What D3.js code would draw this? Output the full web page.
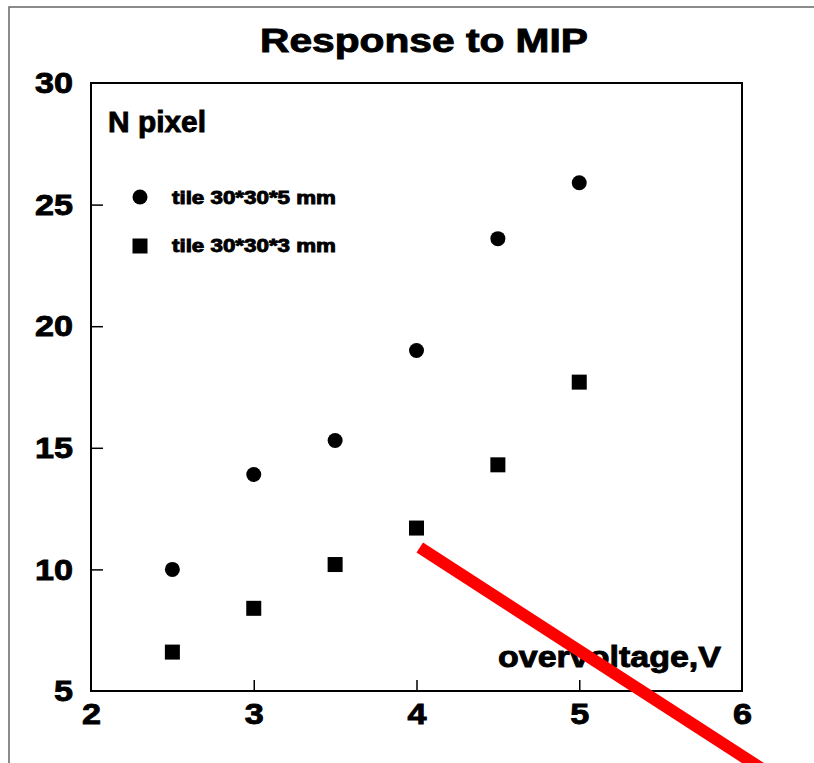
<!DOCTYPE html>
<html>
<head>
<meta charset="utf-8">
<script src="https://cdn.jsdelivr.net/npm/d3@7"></script>
<style>
  html, body { margin: 0; padding: 0; background: #fff; }
  svg { display: block; }
  text { font-family: "Liberation Sans", Arial, Helvetica, sans-serif; font-weight: bold; fill: #000; stroke: #000; stroke-width: 0.9px; }
</style>
</head>
<body>
<div id="chart"></div>
<script>
// ---- data ----
const voltages = [2.5, 3, 3.5, 4, 4.5, 5];
const tile5mm = [10.0, 13.9, 15.3, 19.0, 23.6, 25.9];   // circles
const tile3mm = [6.6, 8.4, 10.2, 11.7, 14.3, 17.7];     // squares
const seriesNames = ['tile 30*30*5 mm', 'tile 30*30*3 mm'];
const xTicks = [2, 3, 4, 5, 6];
const yTicks = [5, 10, 15, 20, 25, 30];
// red strike-through annotation, in data units
const redLine = [[4.02, 10.9], [6.4, 0.6]];

const W = 814, H = 763;
const plot = { left: 91, top: 83, right: 742, bottom: 691 };

const svg = d3.select('#chart').append('svg')
  .attr('width', W).attr('height', H)
  .attr('viewBox', `0 0 ${W} ${H}`);

const x = d3.scaleLinear().domain([2, 6]).range([plot.left, plot.right]);
const y = d3.scaleLinear().domain([5, 30]).range([plot.bottom, plot.top]);

// text is drawn wide (Helvetica-ish stretch) — fit to measured ink width
function fit(sel, w) {
  return sel.attr('textLength', w).attr('lengthAdjust', 'spacingAndGlyphs');
}

// outer canvas border (top + left only visible)
svg.append('path')
  .attr('d', `M9,${H + 5} L9,7 L${W + 5},7`)
  .attr('fill', 'none')
  .attr('stroke', '#666')
  .attr('stroke-width', 1.5);

// title
fit(svg.append('text')
  .attr('x', 260).attr('y', 52)
  .attr('font-size', 33)
  .text('Response to MIP'), 328);

// axes
const gx = svg.append('g')
  .attr('transform', `translate(0,${plot.bottom})`)
  .call(d3.axisBottom(x).tickValues(xTicks).tickFormat(d3.format('d'))
    .tickSizeInner(-11).tickSizeOuter(0).tickPadding(12));
const gy = svg.append('g')
  .attr('transform', `translate(${plot.left},0)`)
  .call(d3.axisLeft(y).tickValues(yTicks).tickFormat(d3.format('d'))
    .tickSizeInner(-12).tickSizeOuter(0).tickPadding(18));

[gx, gy].forEach(g => {
  g.select('.domain').remove();
  g.selectAll('.tick line').attr('stroke', '#000').attr('stroke-width', 1.5);
  g.selectAll('.tick text')
    .attr('font-family', '"Liberation Sans", Arial, sans-serif')
    .attr('font-weight', 'bold')
    .attr('font-size', 30)
    .attr('fill', '#000')
    .attr('stroke', '#000')
    .attr('stroke-width', 0.9)
    .each(function (d) {
      const n = String(d).length;
      fit(d3.select(this), n * 19);
    });
});
// hide corner ticks that would sit on the frame
gx.selectAll('.tick line').filter(d => d === 2 || d === 6).remove();
gy.selectAll('.tick line').filter(d => d === 5 || d === 30).remove();

// frame
svg.append('rect')
  .attr('x', plot.left).attr('y', plot.top)
  .attr('width', plot.right - plot.left)
  .attr('height', plot.bottom - plot.top)
  .attr('fill', 'none')
  .attr('stroke', '#000')
  .attr('stroke-width', 2);

// labels inside frame
fit(svg.append('text')
  .attr('x', 108).attr('y', 132)
  .attr('font-size', 30)
  .text('N pixel'), 98);

fit(svg.append('text')
  .attr('x', 498).attr('y', 667)
  .attr('font-size', 30)
  .text('overvoltage,V'), 223);

// legend
const legend = svg.append('g');
legend.append('circle').attr('cx', 140).attr('cy', 197).attr('r', 7.5).attr('fill', '#000');
legend.append('rect').attr('x', 132.5).attr('y', 238.5).attr('width', 15).attr('height', 15).attr('fill', '#000');
fit(legend.append('text').attr('x', 172).attr('y', 204).attr('font-size', 18).attr('stroke-width', 0.6).text(seriesNames[0]), 164);
fit(legend.append('text').attr('x', 172).attr('y', 252).attr('font-size', 18).attr('stroke-width', 0.6).text(seriesNames[1]), 164);

// points
svg.append('g').selectAll('circle')
  .data(voltages.map((v, i) => [v, tile5mm[i]]))
  .join('circle')
  .attr('cx', d => x(d[0]))
  .attr('cy', d => y(d[1]))
  .attr('r', 7.5)
  .attr('fill', '#000');

svg.append('g').selectAll('rect')
  .data(voltages.map((v, i) => [v, tile3mm[i]]))
  .join('rect')
  .attr('x', d => x(d[0]) - 7.5)
  .attr('y', d => y(d[1]) - 7.5)
  .attr('width', 15).attr('height', 15)
  .attr('fill', '#000');

// red annotation stroke
svg.append('path')
  .datum(redLine)
  .attr('d', d3.line().x(d => x(d[0])).y(d => y(d[1])))
  .attr('fill', 'none')
  .attr('stroke', '#ff0000')
  .attr('stroke-width', 12)
  .attr('stroke-linecap', 'butt');
</script>
</body>
</html>
